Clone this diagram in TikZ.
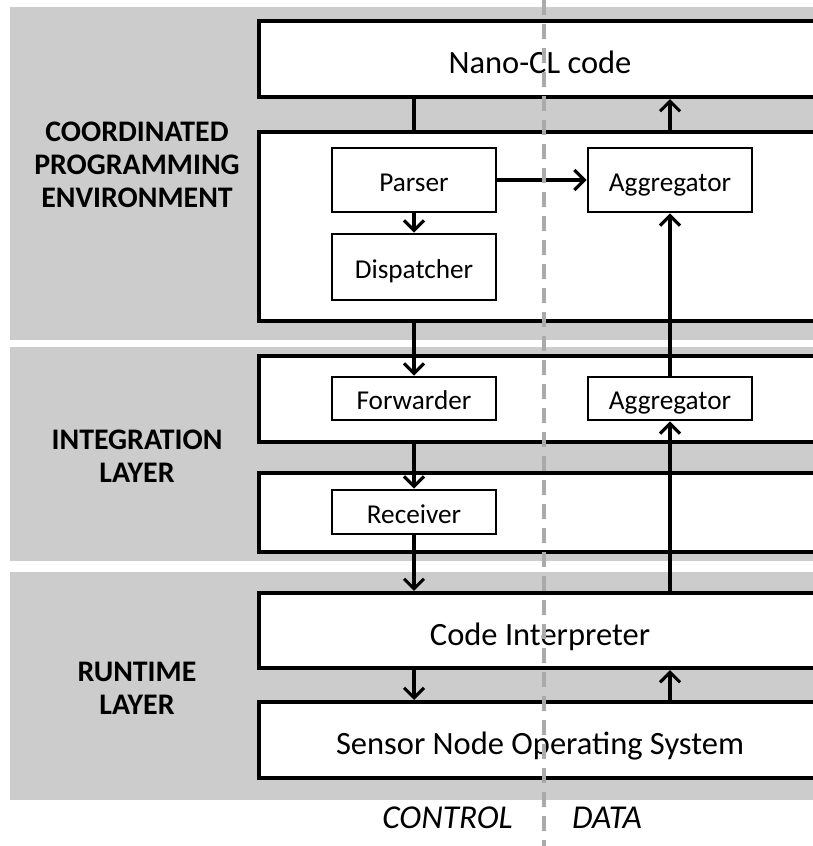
\documentclass[tikz,border=0pt]{standalone}
\usepackage{fontspec}
\setmainfont{Carlito}
\usetikzlibrary{arrows.meta,positioning}
\definecolor{bandgray}{RGB}{204,204,204}
\definecolor{splitgray}{RGB}{170,170,170}

\begin{document}
\begin{tikzpicture}[x=0.02cm,y=-0.02cm,
  layerbox/.style={draw,line width=2.3pt,fill=white,minimum width=11.24cm,inner sep=0pt,text height=17pt,text depth=0pt,font=\fontsize{18.5}{22}\selectfont},
  partbox/.style={draw,line width=1.6pt,fill=white,minimum width=3.28cm,inner sep=0pt,text height=13pt,text depth=0pt,font=\fontsize{15.5}{18}\selectfont},
  flow/.style={line width=1.8pt,-{Straight Barb[length=0.2cm,width=0.4cm,line width=1.8pt]}},
  layername/.style={font=\fontsize{17}{18.7}\selectfont\bfseries,align=center},
  sidename/.style={font=\fontsize{19}{22}\selectfont\itshape}]
\useasboundingbox (0,0) rectangle (813,846);
\clip (0,0) rectangle (813,846);
% layer bands
\fill[bandgray] (10,7) rectangle (830,340);
\fill[bandgray] (10,347) rectangle (830,561);
\fill[bandgray] (10,572) rectangle (830,800);
% layer names
\node[layername] (cpename) at (137,165) {COORDINATED\\PROGRAMMING\\ENVIRONMENT};
\node[layername] (intname) at (137,456) {INTEGRATION\\LAYER};
\node[layername] (rtname) at (137,688) {RUNTIME\\LAYER};
% boxes
\node[layerbox,minimum height=1.52cm] (nano) at (540,59) {Nano-CL code};
\node[layerbox,minimum height=3.78cm] (cpe) at (540,226.5) {};
\node[partbox,minimum height=1.28cm] (parser) at (414,180) {Parser};
\node[partbox,minimum height=1.32cm] (dispatcher) at (414,267) {Dispatcher};
\node[partbox,minimum height=1.28cm] (aggtop) at (670,180) {Aggregator};
\node[layerbox,minimum height=1.72cm] (inta) at (540,399) {};
\node[partbox,minimum height=0.86cm] (forwarder) at (414,398.5) {Forwarder};
\node[partbox,minimum height=0.86cm] (aggmid) at (670,398.5) {Aggregator};
\node[layerbox,minimum height=1.58cm] (intb) at (540,512.5) {};
\node[partbox,minimum height=0.88cm] (receiver) at (414,512) {Receiver};
\node[layerbox,minimum height=1.5cm] (interp) at (540,630.5) {Code Interpreter};
\node[layerbox,minimum height=1.52cm] (os) at (540,740) {Sensor Node Operating System};
% control path
\draw[line width=1.8pt] (nano.south -| parser) -- (cpe.north -| parser);
\draw[flow] (parser) -- (dispatcher);
\draw[flow] (parser) -- (aggtop);
\draw[flow] (cpe.south -| parser) -- (forwarder);
\draw[flow] (inta.south -| forwarder) -- (receiver);
\draw[flow] (receiver) -- (interp.north -| receiver);
\draw[flow] (interp.south -| receiver) -- (os.north -| receiver);
% data path
\draw[flow] (os.north -| aggtop) -- (interp.south -| aggtop);
\draw[flow] (interp.north -| aggmid) -- (aggmid);
\draw[flow] (aggmid) -- (aggtop);
\draw[flow] (cpe.north -| aggtop) -- (nano.south -| aggtop);
% control / data split
\coordinate (splittop) at (544,0);
\coordinate (splitbot) at (544,846);
\draw[splitgray,line width=2.3pt,dash pattern=on 0.3cm off 0.18cm] (splittop) -- (splitbot);
\node[sidename,anchor=east] (ctrl) at (519,818) {CONTROL};
\node[sidename,anchor=west] (data) at (566,818) {DATA};
\end{tikzpicture}
\end{document}
